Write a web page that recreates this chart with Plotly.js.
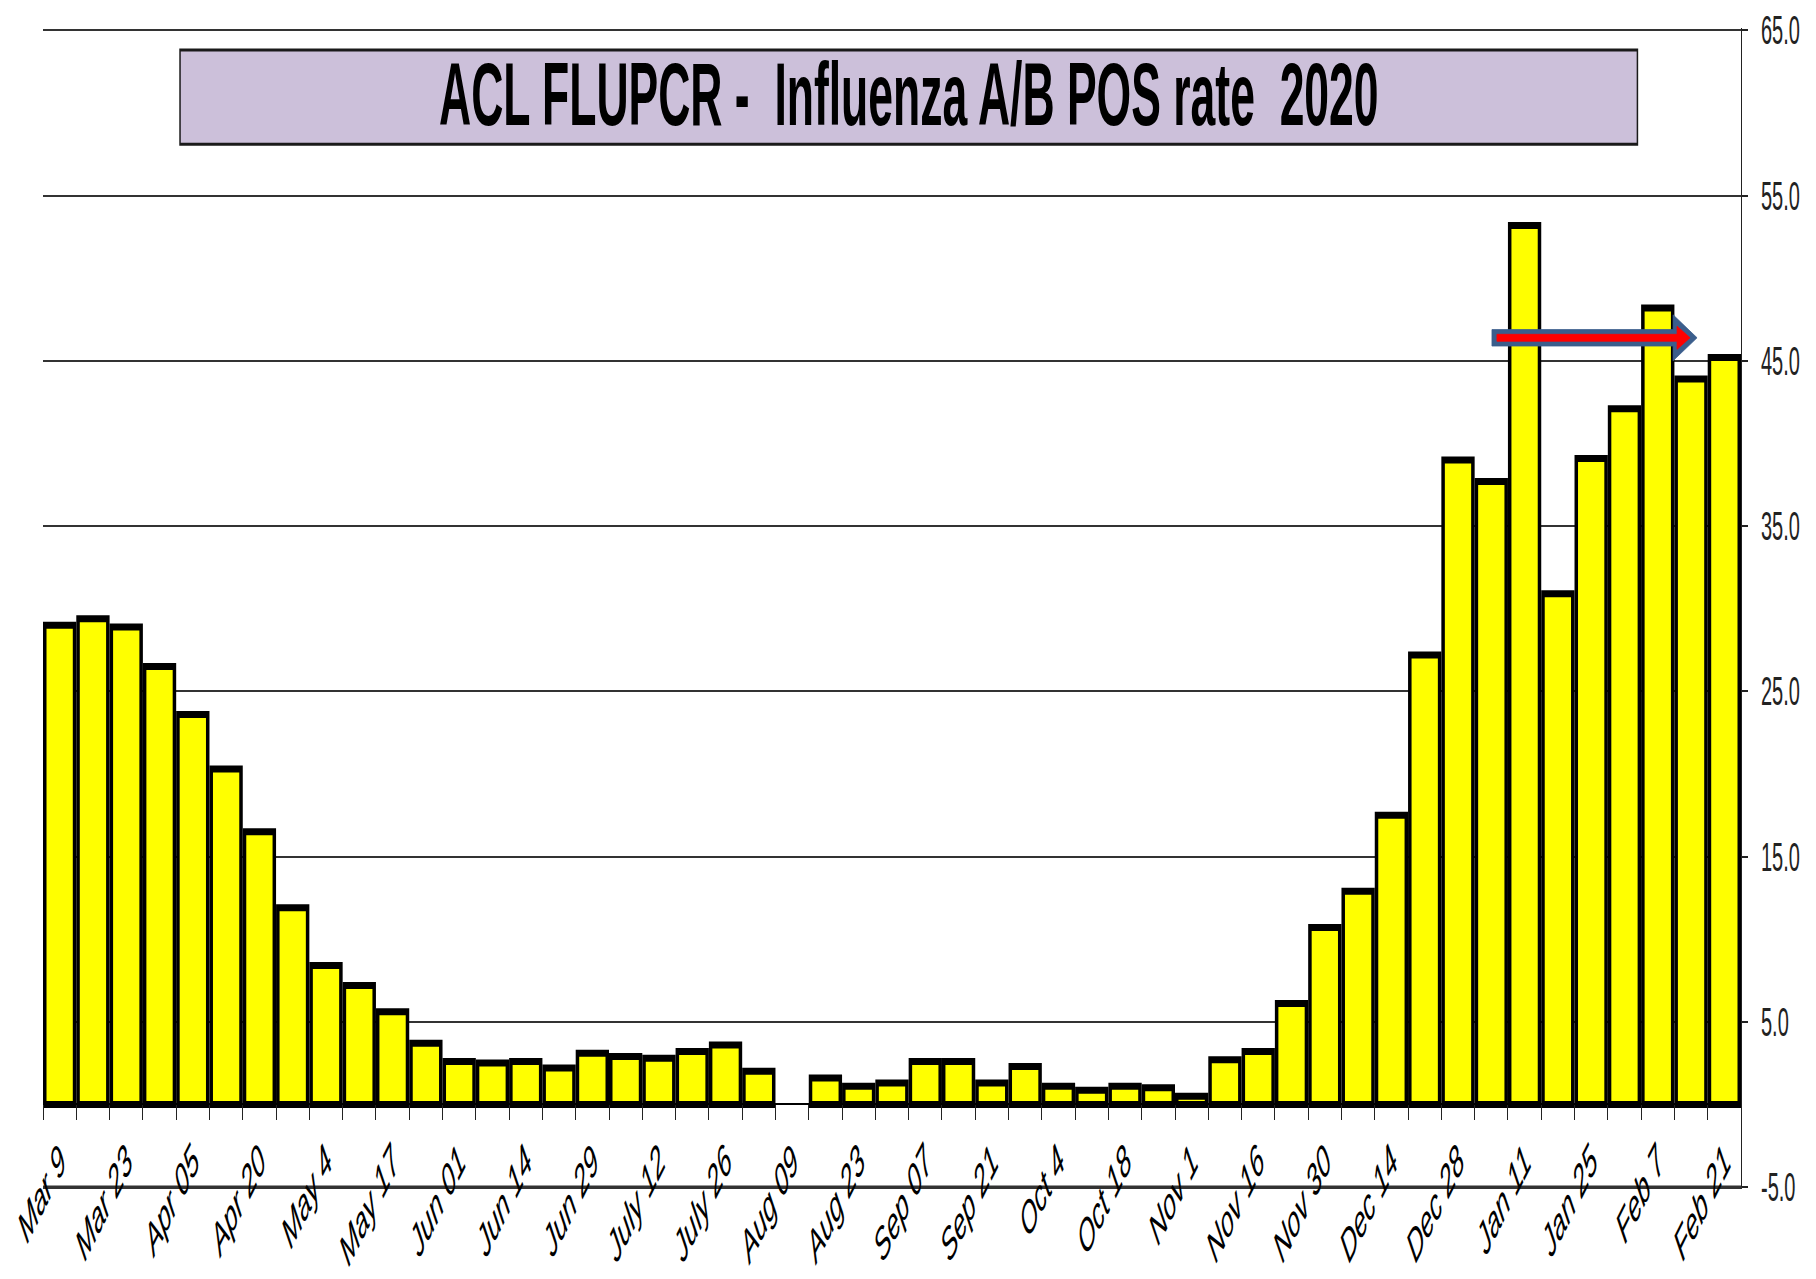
<!DOCTYPE html>
<html>
<head>
<meta charset="utf-8">
<script src="https://cdn.plot.ly/plotly-3.0.1.min.js"></script>
<style>
  html, body { margin: 0; padding: 0; overflow: hidden; background: #ffffff; width: 1816px; height: 1279px; }
  /* The original picture is a chart squeezed to half its width; reproduce that squeeze. */
  #chart { width: 3632px; height: 1279px; transform: scaleX(0.5); transform-origin: 0 0; }
</style>
</head>
<body>
<div id="chart"></div>
<script>
// ---- data ----
const weekLabels = ["Mar 9", "Mar 23", "Apr 05", "Apr 20", "May 4", "May 17", "Jun 01", "Jun 14",
  "Jun 29", "July 12", "July 26", "Aug 09", "Aug 23", "Sep 07", "Sep 21", "Oct 4", "Oct 18",
  "Nov 1", "Nov 16", "Nov 30", "Dec 14", "Dec 28", "Jan 11", "Jan 25", "Feb 7", "Feb 21"];

const posRate = [29.0, 29.4, 28.9, 26.5, 23.6, 20.3, 16.5, 11.9, 8.4, 7.2, 5.6, 3.7,
  2.6, 2.5, 2.6, 2.2, 3.1, 2.9, 2.8, 3.2, 3.6, 2.0,
  null, 1.6, 1.1, 1.3, 2.6, 2.6, 1.3, 2.3, 1.1, 0.85, 1.1, 1.0, 0.5,
  2.7, 3.2, 6.1, 10.7, 12.9, 17.5, 27.2, 39.0, 37.7, 53.2, 30.9, 39.1, 42.1, 48.2, 43.9, 45.2];

const yTickValues = [-5, 5, 15, 25, 35, 45, 55, 65];
const yRange = [-5, 65];
const titleText = "ACL FLUPCR -\u00a0 Influenza A/B POS rate\u00a0 2020";

// arrow annotation (data units): level and extents
const arrowLevel = 46.4;
const arrowOuter = { from: 43.02, headStart: 48.46, tip: 49.18, shaft: 0.5, head: 1.39 };
const arrowInner = { from: 43.17, headStart: 48.58, tip: 48.97, shaft: 0.21, head: 0.7 };

// ---- build ----
const xIdx = posRate.map((_, i) => i);
const tickIdx = weekLabels.map((_, i) => 2 * i);
const yTickText = yTickValues.map(v => v.toFixed(1));
const epsTop = 0.15; // small padding so the top gridline at 65 is drawn

function arrowPath(a, y) {
  return "M" + a.from + "," + (y + a.shaft) +
    " L" + a.headStart + "," + (y + a.shaft) +
    " L" + a.headStart + "," + (y + a.head) +
    " L" + a.tip + "," + y +
    " L" + a.headStart + "," + (y - a.head) +
    " L" + a.headStart + "," + (y - a.shaft) +
    " L" + a.from + "," + (y - a.shaft) + " Z";
}

const xRange = [-0.5, posRate.length - 0.5];
const yLo = yRange[0], yHi = yRange[1] + epsTop;

const bars = {
  type: "bar",
  x: xIdx,
  y: posRate,
  marker: { color: "#ffff00", line: { color: "#000000", width: 7 } },
  hoverinfo: "skip"
};
// empty helper trace so the bottom frame axis (the -5 line) is drawn
const frame = { type: "scatter", mode: "markers", x: [], y: [], xaxis: "x2", yaxis: "y", hoverinfo: "skip", showlegend: false };
// baseline gridline at the axis minimum (-5), spanning the x range
const minLine = {
  type: "scatter", mode: "lines",
  x: xRange, y: [yRange[0], yRange[0]],
  line: { color: "#333333", width: 3 },
  cliponaxis: false,
  hoverinfo: "skip", showlegend: false
};

const layout = {
  width: 3632,
  height: 1279,
  margin: { l: 86, r: 150, t: 28, b: 92, pad: 0 },
  paper_bgcolor: "#ffffff",
  plot_bgcolor: "rgba(0,0,0,0)",
  showlegend: false,
  bargap: 0.105,
  xaxis: {
    type: "linear",
    range: xRange,
    anchor: "free",
    position: (0 - yLo) / (yHi - yLo),
    tickmode: "array",
    tickvals: tickIdx,
    ticktext: weekLabels,
    ticks: "",
    tickangle: -45,
    tickfont: { family: "Liberation Sans, Arial, sans-serif", size: 45, color: "#000000", style: "italic" },
    ticklabelstandoff: 20,
    showgrid: false,
    zeroline: false,
    showline: false,
    minor: {
      tickmode: "linear",
      tick0: -0.5,
      dtick: 1,
      ticks: "outside",
      ticklen: 15,
      tickwidth: 2,
      tickcolor: "#222222",
      showgrid: false
    },
    fixedrange: true
  },
  xaxis2: {
    type: "linear",
    range: xRange,
    overlaying: "x",
    anchor: "y",
    side: "bottom",
    showline: true,
    linecolor: "#333333",
    linewidth: 2,
    showticklabels: false,
    ticks: "",
    showgrid: false,
    zeroline: false,
    fixedrange: true
  },
  yaxis: {
    range: [yLo, yHi],
    side: "right",
    tickmode: "array",
    tickvals: yTickValues,
    ticktext: yTickText,
    ticks: "outside",
    ticklen: 12,
    tickwidth: 2,
    tickcolor: "#222222",
    ticklabelstandoff: 18,
    tickfont: { family: "Liberation Sans, Arial, sans-serif", size: 40, color: "#222222" },
    showline: true,
    linecolor: "#222222",
    linewidth: 2,
    showgrid: true,
    gridcolor: "#333333",
    gridwidth: 2,
    zeroline: true,
    zerolinecolor: "#000000",
    zerolinewidth: 2,
    fixedrange: true
  },
  shapes: [
    {
      type: "rect", xref: "paper", yref: "paper",
      x0: 0.0807, x1: 0.939, y0: 0.8997, y1: 0.981,
      fillcolor: "#ccc0da",
      line: { color: "#1a1a1a", width: 3 },
      layer: "above"
    },
    {
      type: "path", xref: "x", yref: "y",
      path: arrowPath(arrowOuter, arrowLevel),
      fillcolor: "#3b5e8c",
      line: { color: "#3b5e8c", width: 1 },
      layer: "above"
    },
    {
      type: "path", xref: "x", yref: "y",
      path: arrowPath(arrowInner, arrowLevel),
      fillcolor: "#ff0000",
      line: { color: "#ff0000", width: 1 },
      layer: "above"
    }
  ],
  annotations: [
    {
      xref: "paper", yref: "paper",
      x: 0.51, y: 0.943,
      xanchor: "center", yanchor: "middle",
      text: titleText,
      showarrow: false,
      font: { family: "Liberation Sans, Arial, sans-serif", size: 89, color: "#000000", weight: "bold" }
    }
  ]
};

Plotly.newPlot("chart", [bars, frame, minLine], layout, { staticPlot: true, displayModeBar: false });
</script>
</body>
</html>
